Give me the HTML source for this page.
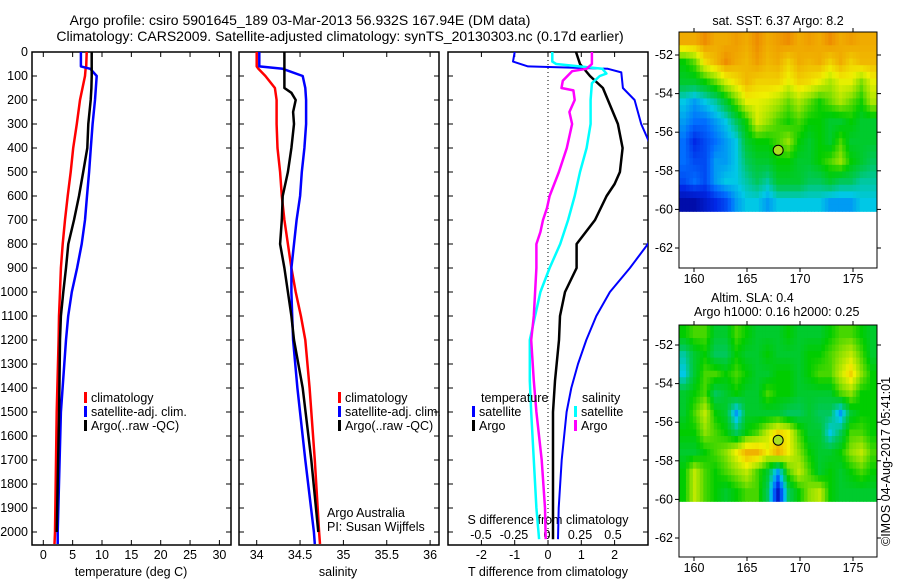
<!DOCTYPE html>
<html><head><meta charset="utf-8">
<style>
html,body{margin:0;padding:0;background:#fff;}
svg{display:block;font-family:"Liberation Sans",sans-serif;}
text{font-size:12.5px;fill:#000;}
.ttl{font-size:14px;}
</style></head>
<body>
<svg id="chart" width="900" height="580" viewBox="0 0 900 580" xmlns="http://www.w3.org/2000/svg">
<defs>
<clipPath id="clip3"><rect x="448" y="52" width="200" height="493"/></clipPath>
</defs>
<text class="ttl" x="300" y="25" text-anchor="middle">Argo profile: csiro 5901645_189 03-Mar-2013 56.932S 167.94E (DM data)</text>
<text class="ttl" x="340" y="41" text-anchor="middle">Climatology: CARS2009. Satellite-adjusted climatology: synTS_20130303.nc (0.17d earlier)</text>
<g id="g"></g>
</svg>
<script>
// ---- profile data (depth in m) ----
const tDepth = [0,60,70,100,200,300,400,500,600,700,800,900,1000,1100,1200,1500,2000,2050];
const tClim  = [7.4,7.3,7.2,7.1,6.25,5.7,5.1,4.67,4.15,3.7,3.3,3.0,2.85,2.67,2.6,2.28,2.0,1.9];
const tSat   = [6.4,6.4,8.0,9.1,8.8,8.4,8.1,7.8,7.45,7.1,6.55,5.75,4.85,4.25,3.87,3.0,2.45,2.45];
const argoDepth = [0,100,150,200,300,400,500,600,700,800,900,1000,1100,1200,1500,2000];
const tArgo  = [8.25,8.25,8.2,8.07,7.67,7.5,6.8,6.08,5.23,4.26,3.87,3.4,3.0,2.85,2.7,2.28];
const sDepth = [0,60,70,100,150,200,300,400,500,600,700,800,900,1000,1100,1200,1400,1700,2000,2050];
const sClim  = [34.0,34.0,34.02,34.1,34.21,34.23,34.23,34.24,34.27,34.29,34.32,34.36,34.40,34.45,34.51,34.56,34.61,34.67,34.72,34.73];
const sSat   = [34.03,34.03,34.3,34.53,34.56,34.57,34.57,34.55,34.52,34.5,34.46,34.43,34.4,34.4,34.41,34.42,34.47,34.56,34.66,34.67];
const sArgoDepth = [0,150,170,200,250,300,400,500,600,700,800,900,1000,1100,1200,1400,1700,2000];
const sArgo  = [34.32,34.32,34.4,34.45,34.42,34.43,34.4,34.36,34.3,34.29,34.27,34.32,34.36,34.4,34.43,34.53,34.63,34.71];
// differences
const dTSatDepth = [0,40,60,70,85,150,200,300,380,700,800,900,1000,1100,1200,1300,1400,1500,1700,1900,2030];
const dTSat = [-1.0,-1.05,-0.6,1.8,2.2,2.25,2.6,2.8,3.05,3.5,3.0,2.46,1.86,1.45,1.15,0.9,0.7,0.56,0.41,0.32,0.3];
const dTArgoDepth = [0,50,100,150,200,300,400,500,550,600,700,800,900,1000,1100,1200,1370,1500,1700,2030];
const dTArgo = [0.84,0.96,1.26,1.65,1.8,2.1,2.24,2.16,2.0,1.76,1.41,0.86,0.86,0.51,0.36,0.33,0.21,0.15,0.15,0.15];
const dSSatDepth = [0,40,50,70,90,100,130,200,300,400,500,600,700,800,900,1000,1100,1200,1370,1500,1700,1900,2030];
const dSSat = [0.04,0.04,0.07,0.42,0.45,0.40,0.34,0.33,0.33,0.30,0.25,0.21,0.16,0.10,0.02,-0.05,-0.09,-0.13,-0.13,-0.12,-0.10,-0.08,-0.06];
const dSArgoDepth = [0,50,70,80,120,150,160,200,250,300,400,500,600,650,700,750,800,900,1000,1100,1200,1370,1500,1700,1900,2030];
const dSArgo = [0.34,0.34,0.30,0.19,0.12,0.11,0.2,0.21,0.17,0.19,0.15,0.09,0.02,0.0,-0.03,-0.05,-0.08,-0.08,-0.09,-0.1,-0.12,-0.1,-0.08,-0.04,-0.015,-0.01];
// ticks
const depthTicks = [0,100,200,300,400,500,600,700,800,900,1000,1100,1200,1300,1400,1500,1600,1700,1800,1900,2000];
const tTicks = [0,5,10,15,20,25,30];
const sTicks = [34,34.5,35,35.5,36];
const sTickLabels = ["34","34.5","35","35.5","36"];
const dtTicks = [-2,-1,0,1,2];
const dsTicks = [-0.5,-0.25,0,0.25,0.5];
const dsTickLabels = ["-0.5","-0.25","0","0.25","0.5"];
// maps
const lonTicks = [160,165,170,175];
const latTicks = [-52,-54,-56,-58,-60,-62];
const sstGrid = [
[0.86,0.86,0.9,0.86,0.86,0.88,0.86,0.9,0.86,0.88,0.9,0.86,0.88,0.86,0.9,0.86,0.88,0.86,0.86],
[0.55,0.62,0.78,0.84,0.9,0.86,0.84,0.88,0.84,0.86,0.8,0.86,0.84,0.86,0.8,0.86,0.8,0.84,0.84],
[0.5,0.5,0.55,0.62,0.72,0.78,0.84,0.8,0.8,0.8,0.74,0.8,0.78,0.74,0.68,0.74,0.74,0.64,0.74],
[0.35,0.3,0.35,0.4,0.5,0.62,0.74,0.74,0.72,0.68,0.62,0.68,0.62,0.56,0.62,0.68,0.62,0.56,0.68],
[0.3,0.25,0.25,0.3,0.35,0.45,0.56,0.72,0.66,0.6,0.56,0.6,0.55,0.55,0.5,0.5,0.55,0.5,0.5],
[0.25,0.15,0.2,0.25,0.3,0.35,0.5,0.55,0.55,0.6,0.66,0.55,0.5,0.55,0.5,0.6,0.5,0.5,0.5],
[0.25,0.2,0.2,0.3,0.3,0.35,0.45,0.5,0.5,0.55,0.55,0.5,0.5,0.55,0.6,0.66,0.55,0.5,0.45],
[0.2,0.25,0.2,0.3,0.35,0.35,0.4,0.45,0.4,0.5,0.5,0.5,0.45,0.45,0.5,0.45,0.45,0.4,0.4],
[0.05,0.05,0.1,0.15,0.2,0.3,0.35,0.35,0.3,0.35,0.35,0.35,0.35,0.35,0.3,0.3,0.3,0.35,0.35]];
const slaGrid = [
[0.55,0.6,0.6,0.5,0.5,0.6,0.55,0.5,0.5,0.5,0.55,0.5,0.5,0.5,0.55,0.6,0.6,0.55,0.5],
[0.4,0.5,0.55,0.45,0.45,0.55,0.5,0.5,0.55,0.5,0.5,0.5,0.55,0.55,0.6,0.65,0.7,0.6,0.5],
[0.35,0.5,0.6,0.6,0.55,0.6,0.55,0.5,0.5,0.55,0.55,0.5,0.55,0.6,0.6,0.7,0.8,0.65,0.55],
[0.5,0.55,0.6,0.45,0.5,0.55,0.5,0.5,0.6,0.55,0.55,0.5,0.5,0.5,0.5,0.6,0.65,0.55,0.55],
[0.5,0.6,0.7,0.55,0.5,0.3,0.5,0.5,0.5,0.5,0.45,0.45,0.5,0.45,0.45,0.3,0.5,0.55,0.55],
[0.55,0.55,0.65,0.6,0.55,0.45,0.55,0.6,0.7,0.8,0.75,0.6,0.5,0.5,0.35,0.45,0.6,0.6,0.55],
[0.5,0.5,0.55,0.6,0.65,0.75,0.85,0.85,0.75,0.85,0.75,0.65,0.55,0.5,0.5,0.55,0.65,0.7,0.6],
[0.55,0.7,0.6,0.55,0.6,0.65,0.7,0.6,0.5,0.3,0.6,0.7,0.6,0.5,0.55,0.5,0.55,0.6,0.55],
[0.55,0.7,0.6,0.55,0.5,0.55,0.6,0.6,0.45,0.1,0.45,0.55,0.65,0.7,0.55,0.5,0.5,0.5,0.5]];
const argoLon = 167.94, argoLat = -56.932;

const NS="http://www.w3.org/2000/svg";
const G=document.getElementById('g');
function mk(tag,attrs,parent){const e=document.createElementNS(NS,tag);for(const k in attrs)e.setAttribute(k,attrs[k]);(parent||G).appendChild(e);return e;}
function txt(x,y,s,anchor,parent){const t=mk('text',{x:x,y:y,'text-anchor':anchor||'start'},parent);t.textContent=s;return t;}

const Y0=52, Y1=545;
const dy=d=>Y0+d*0.24;
const p1x=t=>43.3+t*5.87;
const p2x=s=>256.7+(s-34)*86.7;
const p3t=t=>548+t*33.3;
const p3s=s=>547+s*132;

function frame(x0,x1,name){
  const r=mk('rect',{x:x0,y:Y0,width:x1-x0,height:Y1-Y0,fill:'none',stroke:'#000','stroke-width':1.5});
  
  
  depthTicks.forEach(d=>{
    mk('line',{x1:x0,x2:x0+5,y1:dy(d),y2:dy(d),stroke:'#000'});
    mk('line',{x1:x1-5,x2:x1,y1:dy(d),y2:dy(d),stroke:'#000'});
  });
}
function xticks(vals,fx,labels,ly){
  vals.forEach((v,i)=>{
    mk('line',{x1:fx(v),x2:fx(v),y1:Y0,y2:Y0+5,stroke:'#000'});
    mk('line',{x1:fx(v),x2:fx(v),y1:Y1-5,y2:Y1,stroke:'#000'});
    const t=txt(fx(v),ly,labels[i],'middle');
    
    
  });
}
function line(xs,ds,fx,color,name,w,clip){
  const pts=xs.map((v,i)=>fx(v).toFixed(1)+','+dy(ds[i]).toFixed(1)).join(' ');
  const p=mk('polyline',{points:pts,fill:'none',stroke:color,'stroke-width':w||2.5,'stroke-linejoin':'round'});
  if(clip)p.setAttribute('clip-path','url(#clip3)');
  
  
}
function legendItem(x,y,color,label,name){
  mk('rect',{x:x,y:y-10,width:3,height:11,fill:color});
  const t=txt(x+7,y,label);
  
  
}

// Panel 1
frame(32,231,'temperature-panel');
depthTicks.forEach(d=>{const t=txt(28,dy(d)+4,String(d),'end');});
xticks(tTicks,p1x,tTicks.map(String),559);
let tl=txt(131,576,'temperature (deg C)','middle');


line(tClim,tDepth,p1x,'#ff0000','temp-climatology-line');
line(tSat,tDepth,p1x,'#0000ff','temp-satellite-line');
line(tArgo,argoDepth,p1x,'#000','temp-argo-line');
legendItem(84,402,'#ff0000','climatology','legend-climatology');
legendItem(84,416,'#0000ff','satellite-adj. clim.','legend-satellite');
legendItem(84,430,'#000','Argo(..raw -QC)','legend-argo');

// Panel 2
frame(239,439,'salinity-panel');
xticks(sTicks,p2x,sTickLabels,559);
tl=txt(338,576,'salinity','middle');


line(sClim,sDepth,p2x,'#ff0000','sal-climatology-line');
line(sSat,sDepth,p2x,'#0000ff','sal-satellite-line');
line(sArgo,sArgoDepth,p2x,'#000','sal-argo-line');
legendItem(338,402,'#ff0000','climatology','legend-climatology-2');
legendItem(338,416,'#0000ff','satellite-adj. clim.','legend-satellite-2');
legendItem(338,430,'#000','Argo(..raw -QC)','legend-argo-2');
tl=txt(327,517,'Argo Australia');
tl=txt(327,531,'PI: Susan Wijffels');

// Panel 3
frame(448,648,'difference-panel');
mk('line',{x1:p3t(0),x2:p3t(0),y1:Y0,y2:Y1,stroke:'#000','stroke-dasharray':'1,3'});
xticks(dtTicks,p3t,dtTicks.map(String),559);
tl=txt(548,576,'T difference from climatology','middle');


dsTicks.forEach((v,i)=>{const t=txt(p3s(v),539,dsTickLabels[i],'middle');});
tl=txt(548,524,'S difference from climatology','middle');


line(dTSat,dTSatDepth,p3t,'#0000ff','dt-satellite-line',2,true);
line(dTArgo,dTArgoDepth,p3t,'#000','dt-argo-line',2.5,true);
line(dSSat,dSSatDepth,p3s,'#00ffff','ds-satellite-line',2.5,true);
line(dSArgo,dSArgoDepth,p3s,'#ff00ff','ds-argo-line',2.5,true);
tl=txt(481,402,'temperature');
tl=txt(582,402,'salinity');
legendItem(472,416,'#0000ff','satellite','legend-t-satellite');
legendItem(472,430,'#000','Argo','legend-t-argo');
legendItem(574,416,'#00ffff','satellite','legend-s-satellite');
legendItem(574,430,'#ff00ff','Argo','legend-s-argo');

// colormap
const cStops=[[0,[0,0,140]],[0.15,[0,40,230]],[0.25,[0,110,255]],[0.35,[0,200,230]],[0.45,[0,200,90]],[0.55,[0,205,0]],[0.65,[140,225,0]],[0.75,[240,240,0]],[0.87,[240,165,0]],[1,[230,60,0]]];
function cmap(v){
  for(let i=1;i<cStops.length;i++){if(v<=cStops[i][0]){const a=cStops[i-1],b=cStops[i];const f=(v-a[0])/(b[0]-a[0]);const c=a[1].map((x,k)=>Math.round(x+(b[1][k]-x)*f));return 'rgb('+c.join(',')+')';}}
  return 'rgb(230,60,0)';
}
function sample(grid,fr,fc){
  const R=grid.length,C=grid[0].length;
  fr=Math.max(0,Math.min(R-1,fr));fc=Math.max(0,Math.min(C-1,fc));
  const r0=Math.floor(fr),c0=Math.floor(fc),r1=Math.min(R-1,r0+1),c1=Math.min(C-1,c0+1);
  const a=fr-r0,b=fc-c0;
  return grid[r0][c0]*(1-a)*(1-b)+grid[r0][c1]*(1-a)*b+grid[r1][c0]*a*(1-b)+grid[r1][c1]*a*b;
}
function drawMap(grid,top,bottom,latRef,name){
  const x0=679,x1=877;
  const lx=lon=>694+(lon-160)*10.6;
  const ly=lat=>latRef+(-52-lat)*19.3;
  const yMapEnd=ly(-60.1);
  const rows=grid.length, cols=grid[0].length, SUB=3;
  const cw=(x1-x0)/(cols*SUB), ch=(yMapEnd-top)/(rows*SUB);
  const g=mk('g',{});
  
  
  for(let r=0;r<rows*SUB;r++)for(let c=0;c<cols*SUB;c++){
    const v=sample(grid,(r+0.5)/SUB-0.5,(c+0.5)/SUB-0.5);
    const cell=mk('rect',{x:(x0+c*cw).toFixed(2),y:(top+r*ch).toFixed(2),width:(cw+0.5).toFixed(2),height:(ch+0.5).toFixed(2),fill:cmap(v)},g);
    
    
  }
  mk('rect',{x:x0,y:top,width:x1-x0,height:bottom-top,fill:'none',stroke:'#000','stroke-width':1});
  latTicks.forEach(l=>{
    mk('line',{x1:x0-4,x2:x0,y1:ly(l),y2:ly(l),stroke:'#000'});
    mk('line',{x1:x1,x2:x1+4,y1:ly(l),y2:ly(l),stroke:'#000'});
    const t=txt(673,ly(l)+4,String(l),'end');
  });
  lonTicks.forEach(l=>{
    mk('line',{x1:lx(l),x2:lx(l),y1:bottom,y2:bottom+4,stroke:'#000'});
    mk('line',{x1:lx(l),x2:lx(l),y1:top-4,y2:top,stroke:'#000'});
    const t=txt(lx(l),bottom+15,String(l),'middle');
  });
  const dot=mk('circle',{cx:lx(argoLon),cy:ly(argoLat),r:5,fill:'#a8e020',stroke:'#000','stroke-width':1});
  
  
}
drawMap(sstGrid,32,268,55,'sst-map');
drawMap(slaGrid,325,557,345,'sla-map');
tl=txt(778,25,'sat. SST: 6.37 Argo: 8.2','middle');
tl=txt(711,302,'Altim. SLA: 0.4');
tl=txt(694,316,'Argo h1000: 0.16 h2000: 0.25');
tl=mk('text',{x:0,y:0,transform:'translate(890,546) rotate(-90)'});
tl.textContent='©IMOS 04-Aug-2017 05:41:01';


</script>
</body></html>
